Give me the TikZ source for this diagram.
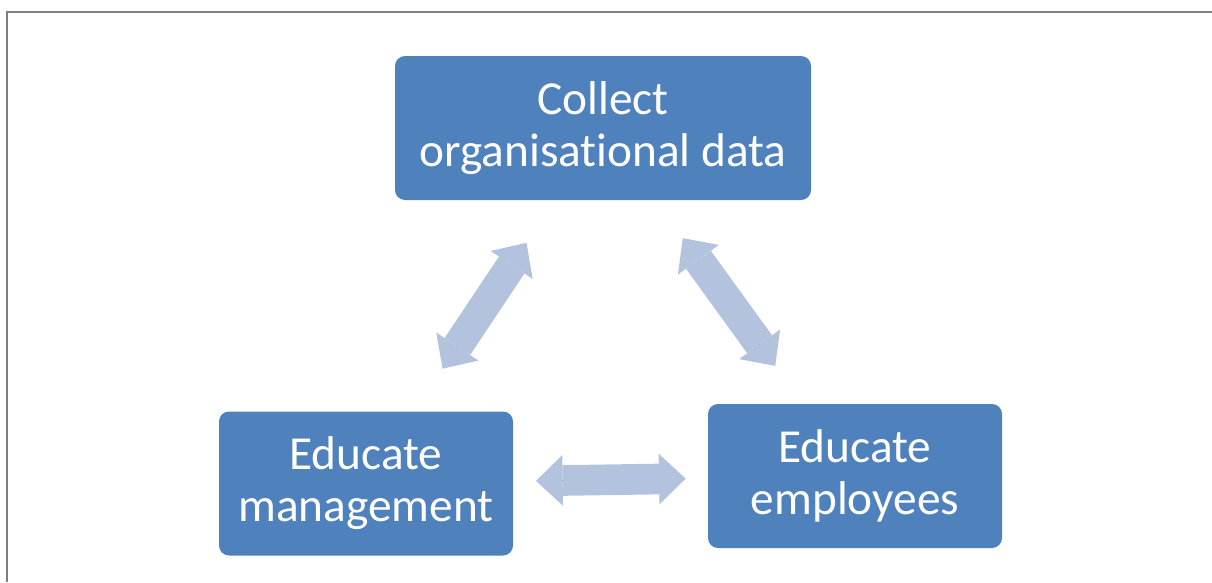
\documentclass[tikz,border=0pt]{standalone}
\usepackage{fontspec}
\setmainfont{Carlito}[Ligatures=NoCommon]
\usetikzlibrary{arrows.meta}
\definecolor{boxblue}{HTML}{4F81BD}
\definecolor{arrowblue}{HTML}{B3C3DE}
\begin{document}
\begin{tikzpicture}[x=0.75pt, y=-0.75pt,
  stepbox/.style={fill=boxblue, rounded corners=7.5pt, text=white, align=center,
    minimum width=220.5pt, minimum height=108pt, inner sep=0pt,
    font=\fontsize{35.5}{39}\selectfont},
  fatarrow/.style 2 args={draw=arrowblue, line width=23pt,
    {Triangle[length=20pt, width=38pt, line width'=0pt]}-{Triangle[length=20pt, width=38pt, line width'=0pt]},
    shorten <=#1, shorten >=#2,
    preaction={draw, -, shorten <=#1+10pt, shorten >=#2+10pt}}]
\useasboundingbox (0,0) rectangle (1212,582);
\draw[gray, line width=2pt] (7,582) -- (7,12) -- (1212,12);

\node[stepbox, minimum width=312pt] (collect) at (603,128) {Collect\\organisational data};
\node[stepbox] (mgmt) at (366,483.5) {Educate\\management};
\node[stepbox] (empl) at (855,476) {Educate\\employees};

\draw[fatarrow={103.5pt}{103.5pt}] (mgmt.center) -- (collect.center);
\draw[fatarrow={102pt}{102pt}] (collect.center) -- (empl.center);
\draw[fatarrow={127.5pt}{127pt}] (mgmt.center) -- (empl.center);
\end{tikzpicture}
\end{document}
